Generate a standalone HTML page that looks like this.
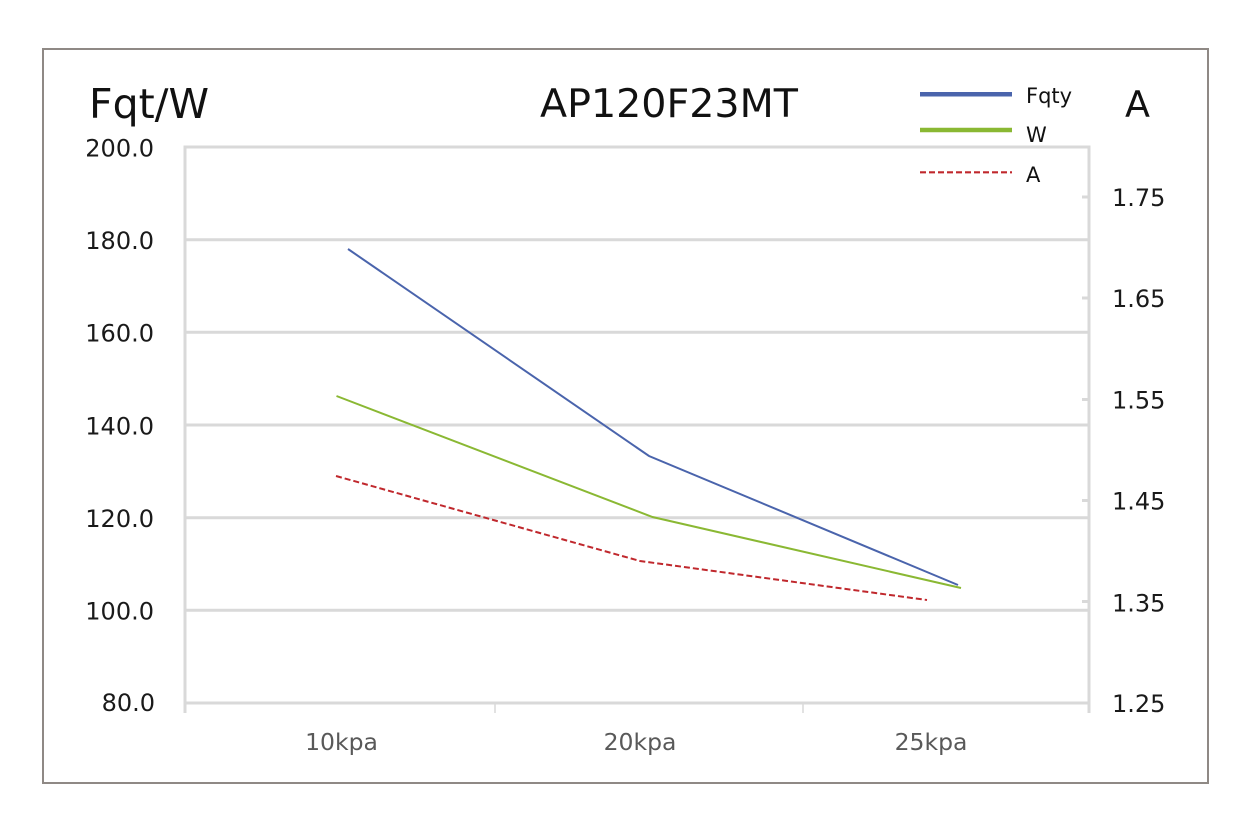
<!DOCTYPE html>
<html>
<head>
<meta charset="utf-8">
<style>
html,body{margin:0;padding:0;background:#fff;}
svg{display:block;}
text{font-family:"DejaVu Sans","Liberation Sans",sans-serif;}
</style>
</head>
<body>
<svg width="1251" height="834" viewBox="0 0 1251 834" xmlns="http://www.w3.org/2000/svg">
  <rect x="0" y="0" width="1251" height="834" fill="#ffffff"/>
  <!-- outer border -->
  <rect x="43" y="49" width="1165" height="734" fill="none" stroke="#8f8985" stroke-width="2"/>

  <!-- gridlines -->
  <g stroke="#d9d9d9" stroke-width="3">
    <line x1="185" y1="147" x2="1089" y2="147"/>
    <line x1="185" y1="239.7" x2="1089" y2="239.7"/>
    <line x1="185" y1="332.3" x2="1089" y2="332.3"/>
    <line x1="185" y1="425" x2="1089" y2="425"/>
    <line x1="185" y1="517.7" x2="1089" y2="517.7"/>
    <line x1="185" y1="610.3" x2="1089" y2="610.3"/>
    <line x1="185" y1="703" x2="1089" y2="703"/>
    <!-- left axis -->
    <line x1="185" y1="145.5" x2="185" y2="713"/>
    <!-- right axis -->
    <line x1="1089" y1="145.5" x2="1089" y2="713"/>
  </g>
  <!-- category ticks -->
  <g stroke="#d9d9d9" stroke-width="1.5">
    <line x1="495" y1="703" x2="495" y2="713"/>
    <line x1="803" y1="703" x2="803" y2="713"/>
  </g>
  <!-- right axis ticks -->
  <g stroke="#d9d9d9" stroke-width="3">
    <line x1="1082" y1="197" x2="1089" y2="197"/>
    <line x1="1082" y1="298" x2="1089" y2="298"/>
    <line x1="1082" y1="399.5" x2="1089" y2="399.5"/>
    <line x1="1082" y1="500.5" x2="1089" y2="500.5"/>
    <line x1="1082" y1="601.5" x2="1089" y2="601.5"/>
  </g>

  <!-- left tick labels -->
  <g font-size="24" fill="#1a1a1a" text-anchor="end">
    <text x="154" y="156.5">200.0</text>
    <text x="154" y="249">180.0</text>
    <text x="154" y="341.5">160.0</text>
    <text x="154" y="434.5">140.0</text>
    <text x="154" y="527">120.0</text>
    <text x="154" y="619.5">100.0</text>
    <text x="155" y="711">80.0</text>
  </g>
  <!-- right tick labels -->
  <g font-size="24" fill="#1a1a1a">
    <text x="1112" y="206">1.75</text>
    <text x="1112" y="307">1.65</text>
    <text x="1112" y="408.5">1.55</text>
    <text x="1112" y="509.5">1.45</text>
    <text x="1112" y="611.5">1.35</text>
    <text x="1112" y="712">1.25</text>
  </g>
  <!-- category labels -->
  <g font-size="23.5" fill="#595959" text-anchor="middle">
    <text x="341.5" y="750">10kpa</text>
    <text x="640" y="750">20kpa</text>
    <text x="931" y="750">25kpa</text>
  </g>

  <!-- axis titles and chart title -->
  <text x="89" y="118" font-size="41" fill="#111">Fqt/W</text>
  <text x="1125" y="117" font-size="36.5" fill="#111">A</text>
  <text x="540" y="117" font-size="39.6" fill="#111">AP120F23MT</text>

  <!-- series -->
  <polyline points="348,249 649,456 958,585" fill="none" stroke="#4a64ac" stroke-width="2"/>
  <polyline points="336.5,396 652.5,517 961,588" fill="none" stroke="#8ab833" stroke-width="2"/>
  <polyline points="336,476 640,561 927,600" fill="none" stroke="#c0282d" stroke-width="2" stroke-dasharray="6,3"/>

  <!-- legend -->
  <line x1="920" y1="94.3" x2="1012" y2="94.3" stroke="#4a64ac" stroke-width="4.5"/>
  <line x1="920" y1="130" x2="1012" y2="130" stroke="#8ab833" stroke-width="4.5"/>
  <line x1="920" y1="172.3" x2="1012" y2="172.3" stroke="#c0282d" stroke-width="2.2" stroke-dasharray="6,3"/>
  <g font-size="21" fill="#111">
    <text x="1026" y="103">Fqty</text>
    <text x="1026" y="142">W</text>
    <text x="1026" y="182">A</text>
  </g>
</svg>
</body>
</html>
